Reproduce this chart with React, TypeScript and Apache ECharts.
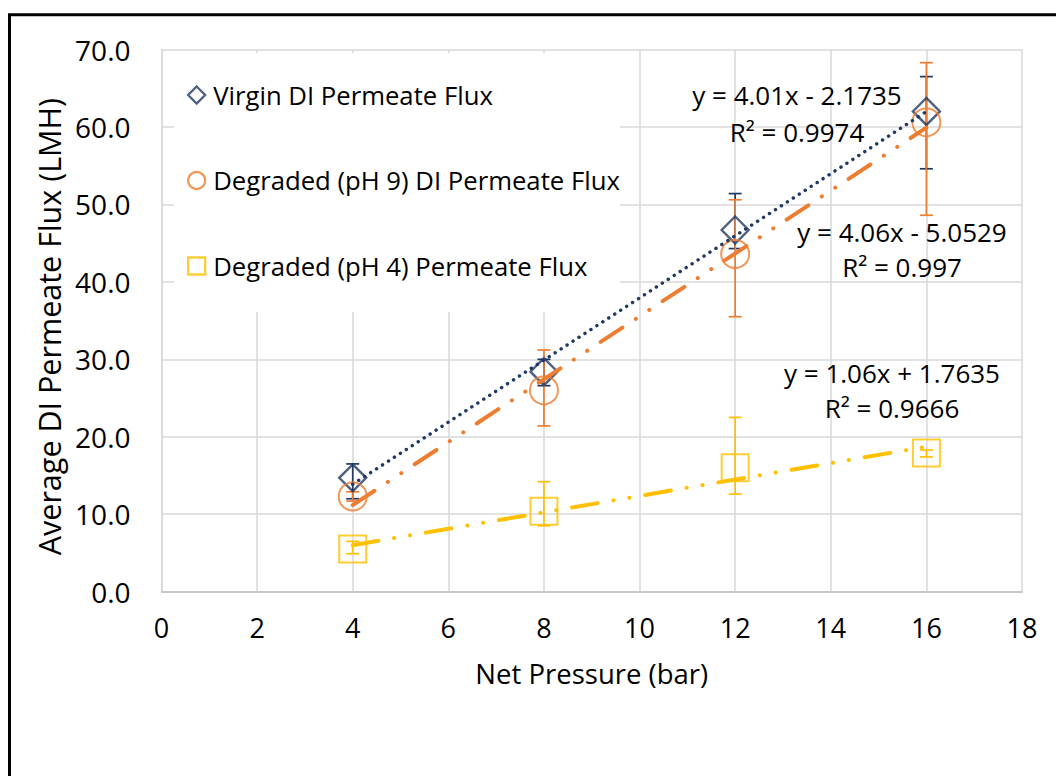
import React, { useEffect, useRef } from "react";
import * as echarts from "echarts";

// ---- data ----
const pressures = [4, 8, 12, 16];
const seriesNames = [
  "Virgin DI Permeate Flux",
  "Degraded (pH 9) DI Permeate Flux",
  "Degraded (pH 4) Permeate Flux",
];
const virginFlux = [14.7, 28.4, 46.7, 62.0];
const virginErrPlus = [1.8, 1.6, 4.7, 4.5];
const virginErrMinus = [2.7, 1.8, 2.4, 7.4];
const ph9Flux = [12.3, 26.0, 43.6, 60.6];
const ph9ErrPlus = [0.6, 5.2, 7.0, 7.7];
const ph9ErrMinus = [0.6, 4.6, 8.1, 12.0];
const ph4Flux = [5.5, 10.4, 16.0, 17.9];
const ph4ErrPlus = [1.0, 3.8, 6.5, 0.4];
const ph4ErrMinus = [0.6, 1.9, 3.4, 0.5];
// linear trendlines as displayed in the chart
const trendSlopes = [4.01, 4.06, 1.06];
const trendIntercepts = [-2.1735, -5.0529, 1.7635];
const trendEquations = ["y = 4.01x - 2.1735", "y = 4.06x - 5.0529", "y = 1.06x + 1.7635"];
const trendR2 = ["R² = 0.9974", "R² = 0.997", "R² = 0.9666"];
const xTicks = { min: 0, max: 18, interval: 2 };
const yTicks = { min: 0, max: 70, interval: 10 };

const COLORS = ["#203864", "#ED7D31", "#FFC000"];
const FONT = "Open Sans";

export default function App() {
  const ref = useRef<HTMLDivElement>(null);

  useEffect(() => {
    const chart = echarts.init(ref.current!, undefined, { renderer: "svg" });

    const fluxes = [virginFlux, ph9Flux, ph4Flux];
    const plus = [virginErrPlus, ph9ErrPlus, ph4ErrPlus];
    const minus = [virginErrMinus, ph9ErrMinus, ph4ErrMinus];
    const symbols = ["diamond", "circle", "rect"];
    const symbolSizes = [[27, 27], 28, 27];

    const errSeries = fluxes.map((f, s) => ({
      type: "custom",
      name: seriesNames[s] + " error",
      silent: true,
      z: 3,
      encode: { x: 0, y: [1, 2] },
      data: pressures.map((x, i) => [x, f[i] - minus[s][i], f[i] + plus[s][i]]),
      renderItem: (params: any, api: any) => {
        const x = api.value(0);
        const lo = api.coord([x, api.value(1)]);
        const hi = api.coord([x, api.value(2)]);
        const cw = 6.5;
        const style = { stroke: COLORS[s], lineWidth: 1.7, fill: "none" };
        return {
          type: "group",
          children: [
            { type: "line", shape: { x1: lo[0], y1: lo[1], x2: hi[0], y2: hi[1] }, style },
            { type: "line", shape: { x1: lo[0] - cw, y1: lo[1], x2: lo[0] + cw, y2: lo[1] }, style },
            { type: "line", shape: { x1: hi[0] - cw, y1: hi[1], x2: hi[0] + cw, y2: hi[1] }, style },
          ],
        };
      },
    }));

    const scatterSeries = fluxes.map((f, s) => ({
      type: "scatter",
      name: seriesNames[s],
      symbol: symbols[s],
      symbolSize: symbolSizes[s],
      z: 4,
      itemStyle: {
        color: "rgba(255,255,255,0)",
        borderColor: COLORS[s],
        borderWidth: s === 0 ? 2.4 : 2,
      },
      data: pressures.map((x, i) => [x, f[i]]),
    }));

    const dashTypes: any[] = [
      [0.1, 7],
      [26, 16, 0.1, 16, 0.1, 16],
      [26, 16, 0.1, 16, 0.1, 16],
    ];
    const trendSeries = trendSlopes.map((m, s) => {
      const x0 = pressures[0];
      const x1 = pressures[pressures.length - 1];
      return {
        type: "line",
        name: seriesNames[s] + " trend",
        silent: true,
        symbol: "none",
        z: 5,
        lineStyle: {
          color: COLORS[s],
          width: s === 0 ? 3.4 : 4,
          type: dashTypes[s],
          cap: "round",
        },
        data: [
          [x0, m * x0 + trendIntercepts[s]],
          [x1, m * x1 + trendIntercepts[s]],
        ],
      };
    });

    const eqPos = [
      [797, 95, 797, 132],
      [902, 232, 902, 267],
      [892, 373, 892, 408],
    ];
    const eqTexts: any[] = [];
    eqPos.forEach((p, s) => {
      eqTexts.push({
        type: "text",
        x: p[0],
        y: p[1],
        z: 10,
        style: { text: trendEquations[s], fill: "#000", font: `26px '${FONT}'`, align: "center", verticalAlign: "middle" },
      });
      eqTexts.push({
        type: "text",
        x: p[2],
        y: p[3],
        z: 10,
        style: { text: trendR2[s], fill: "#000", font: `26px '${FONT}'`, align: "center", verticalAlign: "middle" },
      });
    });

    chart.setOption({
      animation: false,
      backgroundColor: "#fff",
      textStyle: { fontFamily: FONT },
      grid: { left: 161.5, right: 34, top: 49.5, bottom: 184.3, containLabel: false },
      xAxis: {
        type: "value",
        min: xTicks.min,
        max: xTicks.max,
        interval: xTicks.interval,
        name: "Net Pressure (bar)",
        nameLocation: "middle",
        nameGap: 68,
        nameTextStyle: { fontSize: 27.5, color: "#000", fontFamily: FONT },
        axisLine: { show: true, lineStyle: { color: "#bfbfbf", width: 1.5 } },
        axisTick: { show: false },
        axisLabel: { fontSize: 27, color: "#000", margin: 22, fontFamily: FONT },
        splitLine: { show: true, lineStyle: { color: "#d9d9d9", width: 1.5 } },
      },
      yAxis: {
        type: "value",
        min: yTicks.min,
        max: yTicks.max,
        interval: yTicks.interval,
        name: "Average DI Permeate Flux (LMH)",
        nameLocation: "middle",
        nameGap: 97,
        nameTextStyle: { fontSize: 30.5, color: "#000", fontFamily: FONT, padding: [0, 12, 0, 0] },
        axisLine: { show: true, lineStyle: { color: "#d9d9d9", width: 1.5 } },
        axisTick: { show: false },
        axisLabel: {
          fontSize: 28,
          color: "#000",
          margin: 31,
          fontFamily: FONT,
          formatter: (v: number) => v.toFixed(1),
        },
        splitLine: { show: true, lineStyle: { color: "#d9d9d9", width: 1.5 } },
      },
      legend: {
        data: seriesNames,
        orient: "vertical",
        left: 187,
        top: 80,
        padding: 0,
        itemWidth: 17,
        itemHeight: 17,
        itemGap: 55.5,
        z: 6,
        itemStyle: { borderWidth: 2.3 },
        textStyle: { fontSize: 25.7, color: "#000", lineHeight: 30, fontFamily: FONT, padding: [0, 0, 0, 3] },
      },
      graphic: [
        {
          type: "rect",
          z: 1,
          silent: true,
          shape: { x: 174, y: 53, width: 446, height: 259 },
          style: { fill: "#fff" },
        },
        {
          type: "rect",
          z: 20,
          silent: true,
          shape: { x: 9.5, y: 14.7, width: 1100, height: 820 },
          style: { fill: "none", stroke: "#000", lineWidth: 3 },
        },
        ...eqTexts,
      ],
      series: [...errSeries, ...scatterSeries, ...trendSeries],
    });

    return () => chart.dispose();
  }, []);

  return (
    <div
      ref={ref}
      style={{ position: "absolute", left: 0, top: 0, width: 1056, height: 776 }}
    />
  );
}
